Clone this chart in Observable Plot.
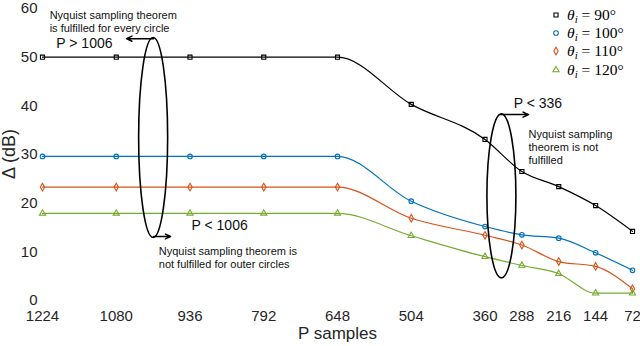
<!DOCTYPE html>
<html><head><meta charset="utf-8">
<script src="https://cdn.jsdelivr.net/npm/d3@7"></script>
<script src="https://cdn.jsdelivr.net/npm/@observablehq/plot@0.6"></script>
<style>
body{margin:0;background:#fff;}
#wrap{position:relative;width:640px;height:346px;overflow:hidden;background:#fff;}
#legend{position:absolute;left:550px;top:6px;font-family:"Liberation Serif","DejaVu Serif",serif;font-size:15.5px;color:#000;}
#legend .row{height:18.2px;display:flex;align-items:center;white-space:nowrap;}
#legend svg{width:12px;height:12px;margin-right:5px;}
#legend sub{font-size:11px;vertical-align:-3px;line-height:0;}
</style></head><body><div id="wrap"><div id="legend"></div></div>
<script>
// ---- data ----
const samples = [1224, 1080, 936, 792, 648, 504, 360, 288, 216, 144, 72];
const yTicks = [0, 10, 20, 30, 40, 50, 60];
const delta90  = [50, 50, 50, 50, 50, 40.3, 33.1, 26.5, 23.4, 19.5, 14.2];
const delta100 = [29.6, 29.6, 29.6, 29.6, 29.6, 20.4, 15.2, 13.5, 12.8, 9.8, 6.2];
const delta110 = [23.3, 23.3, 23.3, 23.3, 23.3, 16.9, 13.4, 11.4, 8.0, 7.0, 2.4];
const delta120 = [17.9, 17.9, 17.9, 17.9, 17.9, 13.3, 9.0, 7.2, 5.5, 1.5, 1.5];
const angles = ["90", "100", "110", "120"];
const colors = ["#000000", "#0072BD", "#D95319", "#77AC30"];
const symbols = ["square", "circle", "diamond", "triangle"];
const allValues = [delta90, delta100, delta110, delta120];

// annotations (data coordinates)
const ellipses = [
  {cx: 1007, cy: 33.4, rxPx: 14.5, ryPx: 100},
  {cx: 327, cy: 21.4, rxPx: 14.5, ryPx: 82}
];
const arrows = [
  {x1: 1007, y1: 53.8, x2: 1060, y2: 53.8},
  {x1: 1007, y1: 13.15, x2: 974, y2: 13.15},
  {x1: 330, y1: 38.2, x2: 275, y2: 38.2}
];
const bigNotes = [
  {x: 1197, y: 52.9, text: "P > 1006"},
  {x: 933, y: 15.4, text: "P < 1006"},
  {x: 304, y: 40.5, text: "P < 336"}
];
const smallNotes = [
  {x: 1210, y: 57.3, text: "Nyquist sampling theorem\nis fulfilled for every circle"},
  {x: 997, y: 8.8, text: "Nyquist sampling theorem is\nnot fulfilled for outer circles"},
  {x: 275, y: 31.6, text: "Nyquist sampling\ntheorem is not\nfulfilled"}
];

const seriesMarks = [];
allValues.forEach((vals, k) => {
  const data = vals.map((v, i) => ({P: samples[i], delta: v}));
  seriesMarks.push(Plot.line(data, {x: "P", y: "delta", stroke: colors[k], strokeWidth: 1.2, curve: "monotone-x"}));
  seriesMarks.push(Plot.dot(data, {x: "P", y: "delta", stroke: colors[k], symbol: symbols[k], r: 2.3, strokeWidth: 1.1, fill: "none"}));
});

const plot = Plot.plot({
  width: 640, height: 346,
  marginLeft: 42, marginRight: 8, marginTop: 8, marginBottom: 46,
  style: {fontFamily: "'Liberation Sans', Arial, sans-serif", background: "white", color: "#262626"},
  x: {type: "linear", domain: [1224, 72]},
  y: {domain: [0, 60]},
  marks: [
    Plot.axisX({ticks: samples, tickSize: 0, tickPadding: 10, fontSize: 15, label: null, tickFormat: d => String(d)}),
    Plot.axisY({ticks: yTicks, tickSize: 0, tickPadding: 5, fontSize: 15, label: null}),
    Plot.text(["P samples"], {frameAnchor: "bottom", dy: 38, fontSize: 17, fill: "#262626"}),
    ...seriesMarks,
    Plot.arrow(arrows, {x1: "x1", y1: "y1", x2: "x2", y2: "y2", stroke: "black", strokeWidth: 1.5, headLength: 6, headAngle: 50}),
    Plot.text(bigNotes, {x: "x", y: "y", text: "text", textAnchor: "start", fontSize: 14, fill: "#111"}),
    Plot.text(smallNotes, {x: "x", y: "y", text: "text", textAnchor: "start", fontSize: 11, lineHeight: 1.16, fill: "#111"})
  ]
});

// ellipses drawn with the plot's scales
const xs = plot.scale("x"), ys = plot.scale("y");
const g = d3.select(plot).append("g");
ellipses.forEach(e => {
  g.append("ellipse")
    .attr("cx", xs.apply(e.cx)).attr("cy", ys.apply(e.cy))
    .attr("rx", e.rxPx).attr("ry", e.ryPx)
    .attr("fill", "none").attr("stroke", "black").attr("stroke-width", 1.6);
});
// y axis title
const yMid = (ys.apply(0) + ys.apply(60)) / 2;
d3.select(plot).append("text")
  .attr("transform", `translate(15,${yMid}) rotate(-90)`)
  .attr("text-anchor", "middle")
  .attr("font-size", 18).attr("fill", "#262626")
  .text("Δ (dB)");

document.getElementById("wrap").prepend(plot);

// legend
const legend = document.getElementById("legend");
angles.forEach((a, k) => {
  const row = document.createElement("div");
  row.className = "row";
  const sym = {square: d3.symbolSquare, circle: d3.symbolCircle, diamond: d3.symbolDiamond, triangle: d3.symbolTriangle}[symbols[k]];
  const path = d3.symbol(sym, Math.PI * 2.3 * 2.3)();
  row.innerHTML = `<svg viewBox="-6 -6 12 12"><path d="${path}" fill="none" stroke="${colors[k]}" stroke-width="1.1"/></svg><span><i>θ</i><sub><i>i</i></sub>&nbsp;=&nbsp;${a}°</span>`;
  legend.appendChild(row);
});
</script>
</body></html>
